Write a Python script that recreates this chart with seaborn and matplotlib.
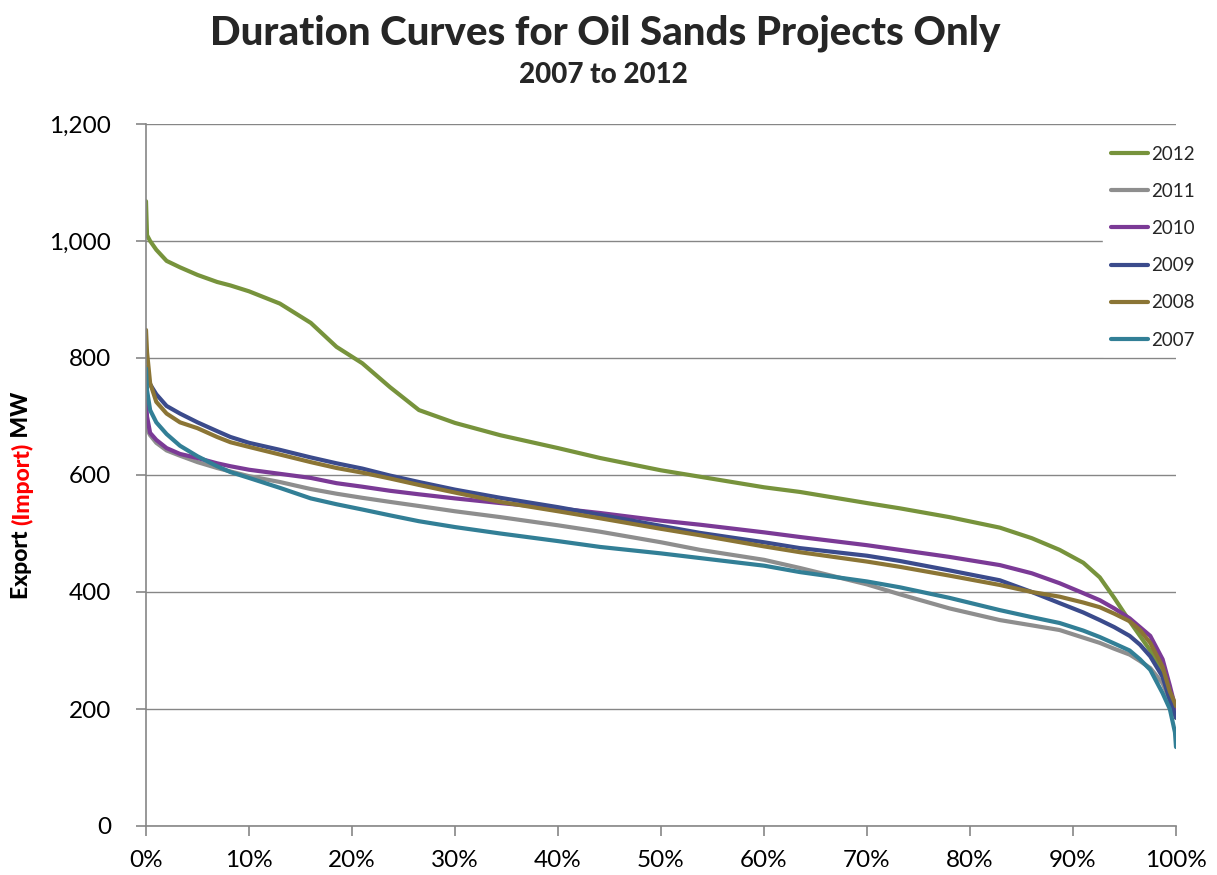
import matplotlib
matplotlib.use("Agg")
import matplotlib.pyplot as plt
import seaborn as sns
import pandas as pd
from matplotlib.ticker import FuncFormatter
from matplotlib.lines import Line2D

pct = [0, 0.1, 0.4, 1, 2, 3.3, 5, 6.9, 8.2, 10, 13, 16, 18.5, 21, 23.7, 26.5, 30, 34.4,
       40, 44.1, 50, 53.8, 60, 63.5, 70, 73.2, 78, 82.9, 86, 88.7, 91, 92.6, 94, 95.5,
       96.5, 97.5, 98.7, 99.4, 99.9, 100]

y2012 = [1068, 1010, 1000, 985, 966, 955, 942, 930, 924, 914, 893, 860, 819, 791, 750, 711, 689, 668,
         646, 629, 608, 597, 579, 571, 552, 543, 528, 510, 492, 472, 450, 425, 390, 350,
         325, 300, 262, 230, 190, 185]
y2011 = [690, 678, 668, 655, 642, 633, 622, 612, 606, 598, 588, 576, 568, 561, 554, 547, 538, 528,
         514, 503, 485, 472, 455, 441, 413, 396, 372, 352, 343, 335, 322, 313, 303, 293,
         282, 270, 244, 215, 195, 190]
y2010 = [728, 700, 672, 660, 646, 636, 629, 620, 615, 609, 602, 595, 586, 580, 573, 567, 560, 552,
         543, 535, 522, 515, 502, 494, 480, 472, 460, 446, 432, 415, 398, 386, 372, 355,
         340, 325, 285, 240, 205, 200]
y2009 = [785, 770, 755, 738, 718, 705, 690, 675, 665, 655, 643, 630, 620, 611, 599, 588, 575, 561,
         545, 532, 513, 501, 485, 475, 462, 453, 437, 420, 400, 381, 365, 352, 340, 325,
         310, 290, 255, 215, 190, 185]
y2008 = [848, 810, 757, 725, 705, 690, 680, 665, 656, 648, 635, 622, 612, 604, 594, 583, 570, 554,
         538, 526, 508, 497, 478, 468, 452, 443, 428, 412, 400, 392, 382, 374, 363, 350,
         335, 313, 272, 230, 210, 205]
y2007 = [782, 745, 711, 690, 670, 650, 632, 615, 605, 595, 578, 560, 550, 541, 531, 521, 511, 500,
         487, 477, 466, 458, 445, 434, 418, 408, 390, 369, 357, 347, 334, 323, 312, 300,
         285, 267, 227, 200, 160, 135]

years = ["2012", "2011", "2010", "2009", "2008", "2007"]
series = [y2012, y2011, y2010, y2009, y2008, y2007]
colors = ["#77933C", "#8E8E8E", "#7B3A96", "#3B4B8C", "#8B7535", "#327F96"]

x_ticks = list(range(0, 101, 10))
y_ticks = list(range(0, 1201, 200))

rows = []
for yr, vals in zip(years, series):
    for p, v in zip(pct, vals):
        rows.append({"pct": p, "MW": v, "year": yr})
df = pd.DataFrame(rows)

sns.set_theme(style="white")
plt.rcParams['font.family'] = ['Lato', 'DejaVu Sans']

fig = plt.figure(figsize=(12.17, 8.75), dpi=100)
ax = fig.add_axes([146/1217, 1-826/875, (1176-146)/1217, (826-124)/875])

sns.lineplot(data=df, x="pct", y="MW", hue="year", hue_order=years,
             palette=colors, linewidth=3, ax=ax, legend=False, sort=False,
             estimator=None)

ax.set_xlim(0, 100)
ax.set_ylim(0, 1200)
ax.set_xticks(x_ticks)
ax.set_yticks(y_ticks)
ax.xaxis.set_major_formatter(FuncFormatter(lambda v, p: f"{int(v)}%"))
ax.yaxis.set_major_formatter(FuncFormatter(lambda v, p: f"{int(v):,}"))
ax.grid(axis="y", color="#868686", linewidth=1)
ax.set_axisbelow(True)
for s in ["top", "right"]:
    ax.spines[s].set_visible(False)
for s in ["left", "bottom"]:
    ax.spines[s].set_color("#868686")
    ax.spines[s].set_linewidth(1.2)
ax.tick_params(axis="both", which="major", length=7, width=1.2, color="#868686",
               labelsize=17.5, labelcolor="black", direction="out",
               left=True, bottom=True)
ax.tick_params(axis="y", pad=18)
ax.tick_params(axis="x", pad=10)
ax.set_xlabel("")
ax.set_ylabel("")

handles = [Line2D([0], [0], color=c, linewidth=3) for c in colors]
leg = fig.legend(handles, years, loc="upper left",
                 bbox_to_anchor=(1103/1217, 1-138/875), frameon=True,
                 fontsize=13.5, handlelength=2.0, handletextpad=0.15,
                 labelspacing=1.08, borderpad=0.4, borderaxespad=0)
leg.get_frame().set_facecolor("white")
leg.get_frame().set_edgecolor("white")
leg.get_frame().set_alpha(1)
leg.get_frame().set_boxstyle("square", pad=0)

fig.text(605/1217, 1-33/875, "Duration Curves for Oil Sands Projects Only",
         ha="center", va="center", fontsize=29, fontweight="black")
fig.text(603/1217, 1-75/875, "2007 to 2012", ha="center", va="center",
         fontsize=20, fontweight="black")

fig.canvas.draw()
renderer = fig.canvas.get_renderer()
parts = [("Export ", "black"), ("(Import)", "red"), (" MW", "black")]
ypos = 599
xc = 22/1217
for txt, col in parts:
    t = fig.text(xc, 1-ypos/875, txt, rotation=90, ha="center", va="bottom",
                 fontsize=16.5, fontweight="black", color=col)
    bb = t.get_window_extent(renderer)
    ypos = 875 - bb.y1

fig.savefig("out.png", dpi=100)
